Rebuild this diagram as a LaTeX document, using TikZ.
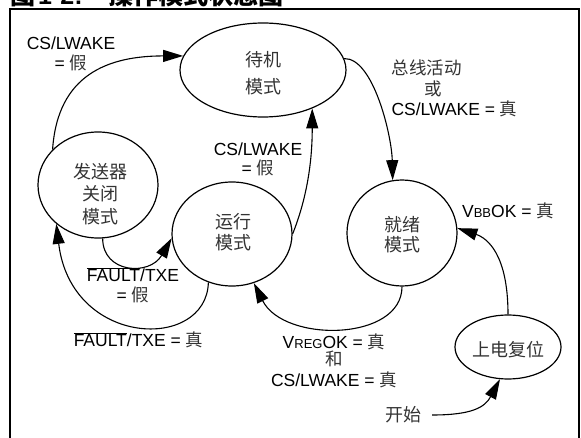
\documentclass[tikz,border=0pt]{standalone}
\usepackage{fontspec}
\setmainfont{Liberation Sans}
\newfontfamily\cjk{Noto Sans CJK SC}
\usetikzlibrary{shapes.geometric,arrows.meta,calc}
\newcommand\zh[1]{{\cjk\color{black!80}#1}}
\newcommand\zhb[1]{{\cjk #1}}
\begin{document}
\begin{tikzpicture}[x=1pt,y=1pt,
  state/.style={ellipse, draw, line width=1.2pt, inner sep=0pt},
  conn/.style={line width=1.1pt, -{Triangle[length=20pt,width=12pt]}},
  lbl/.style={font=\fontsize{17.5}{19.5}\selectfont, align=center, inner sep=0pt},
  cjkl/.style={font=\cjk\fontsize{18}{22}\selectfont, text=black!80, align=center, inner sep=0pt}]
\useasboundingbox (0,0) rectangle (581,437);
\draw[line width=2.5pt] (10,-5) -- (10,428) -- (579,428) -- (579,-5);
\node[anchor=base west, inner sep=0pt, font=\bfseries\fontsize{25}{25}\selectfont] (title) at (10,432) {\zhb{图}\hspace{3pt}1-2:\hspace{26pt}\zhb{操作模式状态图}};

% states
\node[state, minimum width=166pt, minimum height=94pt] (sb) at (263,367) {};
\node[cjkl, font=\cjk\fontsize{18}{27}\selectfont] (sbt) at (263,363.5) {待机\\模式};
\node[state, minimum width=120pt, minimum height=106pt] (tx) at (98,252) {};
\node[cjkl, font=\cjk\fontsize{18}{22.5}\selectfont] (txt) at (100,243) {发送器\\关闭\\模式};
\node[state, minimum width=120pt, minimum height=104pt] (run) at (232,203) {};
\node[cjkl, font=\cjk\fontsize{18}{21}\selectfont] (runt) at (233,204.5) {运行\\模式};
\node[state, minimum width=110pt, minimum height=106pt] (rdy) at (402,204) {};
\node[cjkl, font=\cjk\fontsize{18}{20}\selectfont] (rdyt) at (402,202) {就绪\\模式};
\node[state, minimum width=106pt, minimum height=64pt] (por) at (508,90) {};
\node[cjkl] (port) at (508,87) {上电复位};
\node[cjkl, inner xsep=11pt] (start) at (403,22) {开始};

% labels
\node[lbl] (l1) at (71,383) {CS/LWAKE\\= \zh{假}};
\node[lbl, align=left, font=\fontsize{17.5}{20.5}\selectfont] (l2) at (454.5,348.5) {\zh{总线活动}\\\hspace*{33pt}\zh{或}\\CS/LWAKE = \zh{真}};
\node[lbl] (l3) at (258,277.5) {CS/LWAKE\\= \zh{假}};
\node[lbl] (l4) at (508,226) {V{\fontsize{13}{13}\selectfont BB}OK = \zh{真}};
\node[lbl] (l5) at (133,152) {$\overline{\mbox{FAULT}}$/TXE\\= \zh{假}};
\node[lbl] (l6) at (138.5,97) {$\overline{\mbox{FAULT}}$/TXE = \zh{真}};
\node[lbl, font=\fontsize{17.5}{18.5}\selectfont] (l7) at (334,76) {V{\fontsize{13}{13}\selectfont REG}OK = \zh{真}\\[-2pt]\zh{和}\\[2.5pt]CS/LWAKE = \zh{真}};

% connectors
\draw[conn] (tx.142.5) .. controls ($(tx.142.5)+(5,75)$) and ($(sb.170.5)+(-75,0)$) .. (sb.170.5);
\draw[conn] (sb.8.5) .. controls ($(sb.8.5)+(29,1)$) and ($(rdy.100.7)+(-1,45)$) .. (rdy.100.7);
\draw[conn] (run.0) .. controls ($(run.0)+(12,30)$) and ($(sb.-38.4)+(0,-60)$) .. (sb.-38.4);
\draw[conn] (rdy.-90) .. controls ($(rdy.-90)+(0,-55)$) and ($(run.-66.7)+(30,-60)$) .. (run.-66.7);
\draw[conn] (tx.-85.6) .. controls ($(tx.-85.6)+(0,-35)$) and ($(run.-176)+(-22,-38)$) .. (run.-176);
\draw[conn] (run.-116.6) .. controls ($(run.-116.6)+(-2,-69)$) and ($(tx.-137.2)+(15,-124)$) .. (tx.-137.2);
\draw[conn] (por.90) .. controls ($(por.90)+(0,60)$) and ($(rdy.5)+(30,-10)$) .. (rdy.5);
\draw[conn] (start.east) .. controls ($(start.east)+(40,0)$) and ($(por.-104)+(-15,-28)$) .. (por.-104);
\end{tikzpicture}
\end{document}
